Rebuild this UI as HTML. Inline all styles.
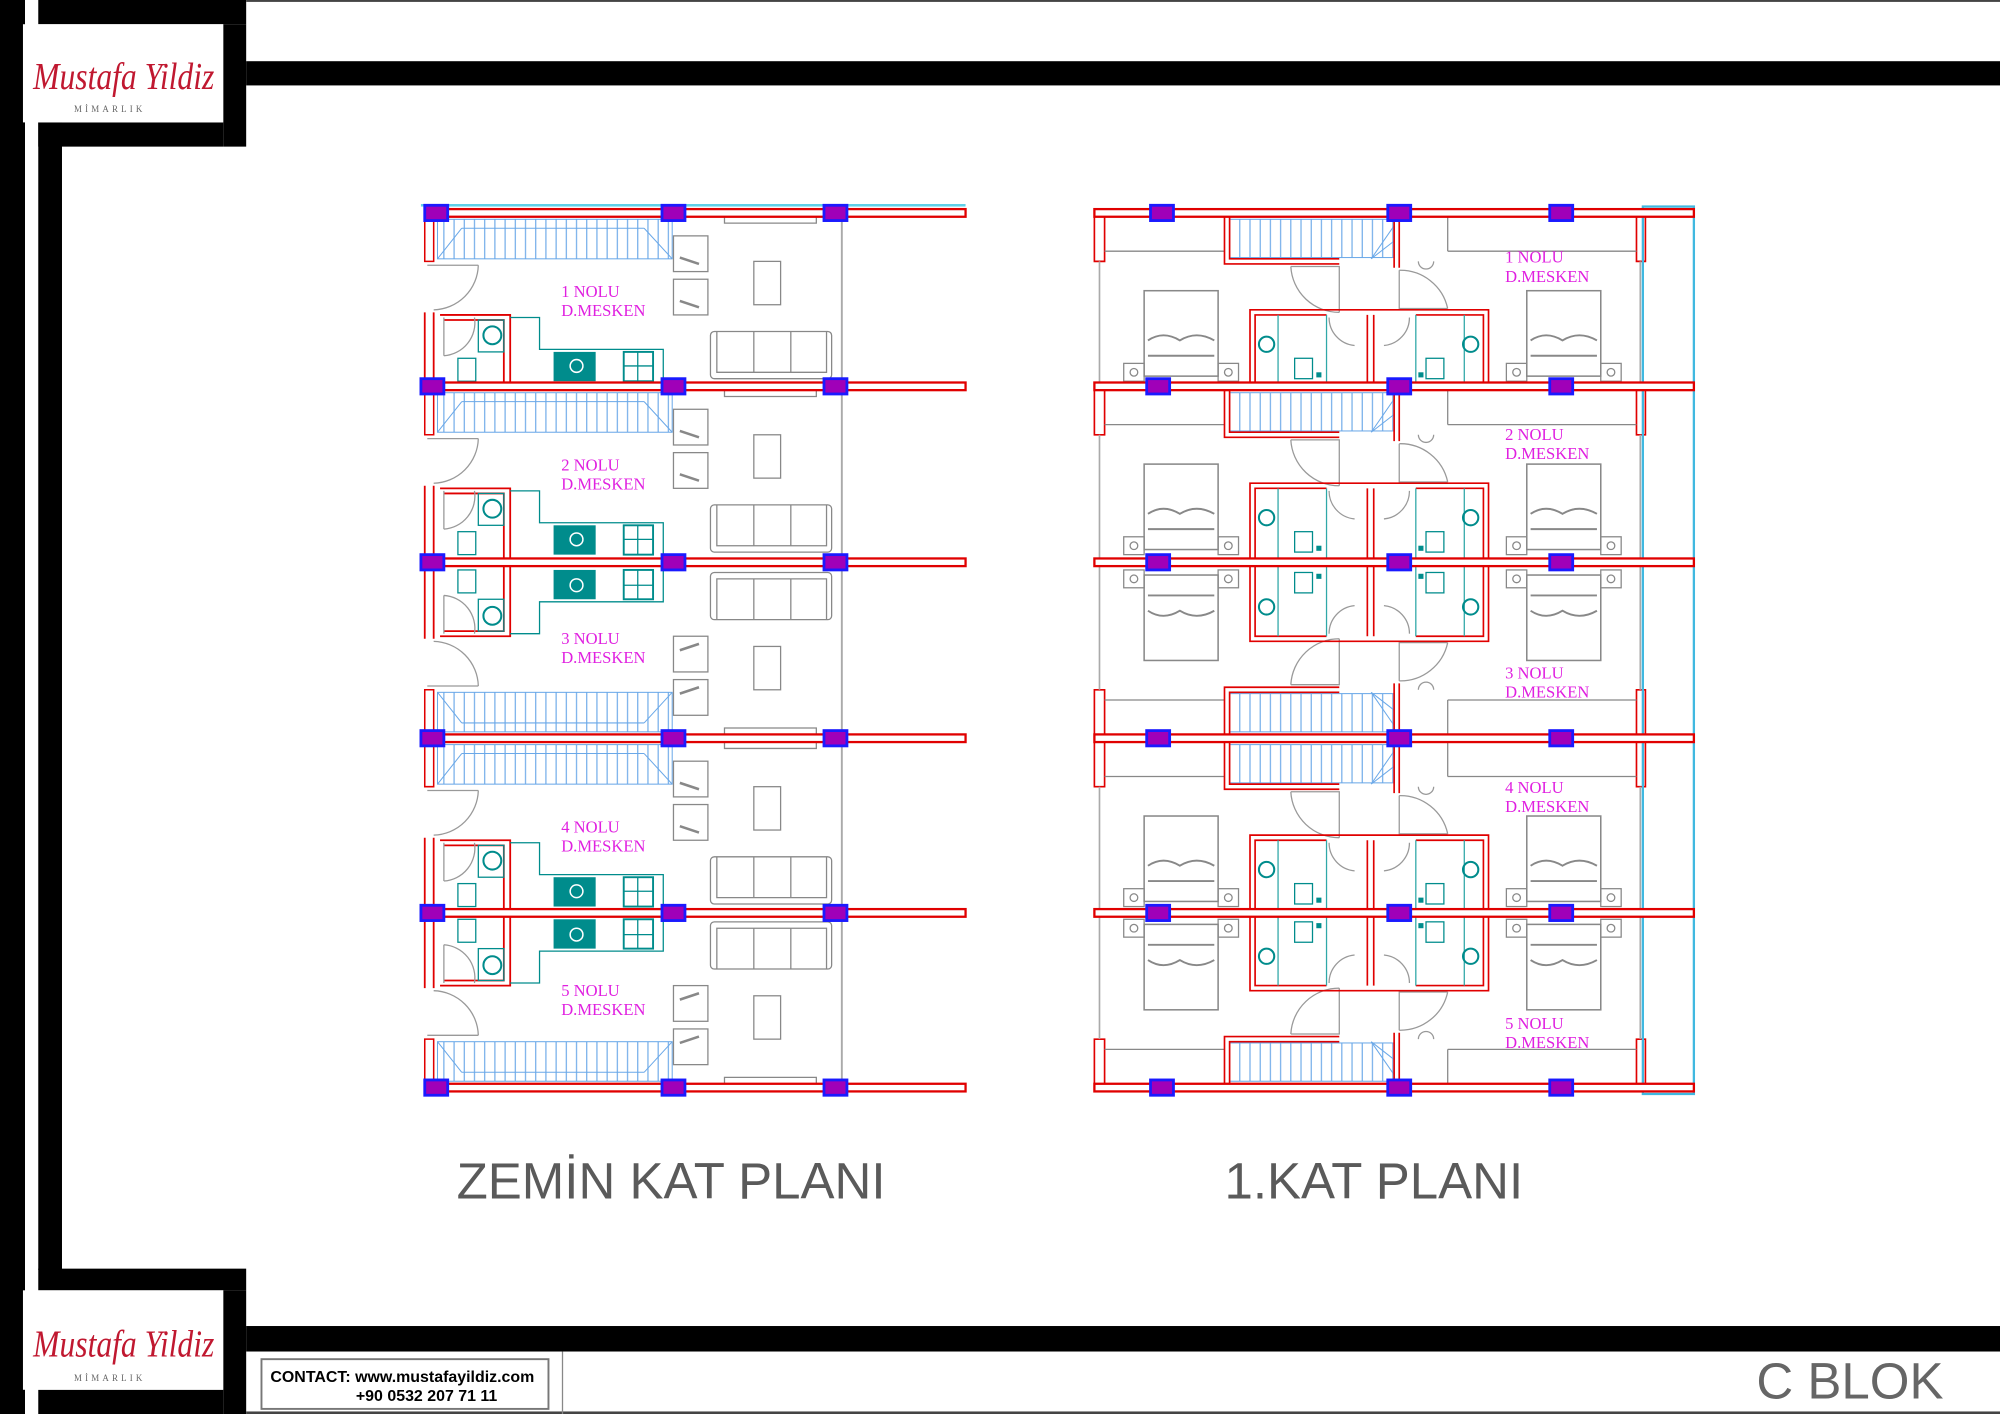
<!DOCTYPE html>
<html><head><meta charset="utf-8"><style>
html,body{margin:0;padding:0;background:#fff;width:2000px;height:1414px;overflow:hidden}
svg{display:block}
</style></head><body>
<svg width="2000" height="1414" viewBox="0 0 1568 1109" preserveAspectRatio="none" xmlns="http://www.w3.org/2000/svg">
<defs>
<pattern id="st" width="8" height="40" patternUnits="userSpaceOnUse"><line x1="4" y1="0" x2="4" y2="40" stroke="#6aa8e8" stroke-width="0.9"/></pattern>
<g id="col"><rect x="-9" y="-6" width="18" height="12" fill="#a000b8" stroke="#1a1aff" stroke-width="2.2"/></g>
<g id="LU" fill="none">
 <rect x="343" y="5" width="184" height="31" fill="url(#st)" stroke="#6aa8e8" stroke-width="0.8"/>
 <path d="M343 36 L362 12 M527 36 L505 12 M362 12 H505" stroke="#6aa8e8" stroke-width="0.8"/>
 <path d="M333 3 V38 H340 V3" stroke="#e00000" stroke-width="1.2"/>
 <path d="M335 41 H375 M375 41 A36 36 0 0 1 340 76" stroke="#999" stroke-width="1"/>
 <path d="M333 78 V136 M340 78 V136" stroke="#e00000" stroke-width="1.4"/>
 <path d="M345 80 H400 V136 M348 84 H395 V136" stroke="#e00000" stroke-width="1.4"/>
 <path d="M348 82 V112 M348 112 A26 26 0 0 0 372 82" stroke="#999" stroke-width="1"/>
 <rect x="375" y="84" width="20" height="25" stroke="#008c8c" stroke-width="1"/>
 <circle cx="386" cy="96" r="7" stroke="#008c8c" stroke-width="1.6"/>
 <rect x="359" y="114" width="14" height="18" stroke="#008c8c" stroke-width="1"/>
 <path d="M400 82 H423 V107 H520 V133" stroke="#008c8c" stroke-width="1"/>
 <rect x="434" y="109" width="33" height="23" fill="#008c8c"/>
 <circle cx="452" cy="120" r="5" stroke="#fff" stroke-width="1.2"/>
 <rect x="489" y="109" width="23" height="23" stroke="#008c8c" stroke-width="1.5"/>
 <path d="M489 120 H512 M500 109 V132" stroke="#008c8c" stroke-width="1"/>
 <rect x="528" y="18" width="27" height="28" stroke="#888" stroke-width="1"/>
 <rect x="528" y="52" width="27" height="28" stroke="#888" stroke-width="1"/>
 <path d="M533 35 L548 40 M533 69 L548 74" stroke="#888" stroke-width="2"/>
 <rect x="591" y="38" width="21" height="34" stroke="#888" stroke-width="1"/>
 <rect x="557" y="93" width="95" height="37" rx="3" stroke="#888" stroke-width="1"/>
 <path d="M562 93 V125 H648 V93 M591 93 V125 M620 93 V125" stroke="#888" stroke-width="1"/>
 <path d="M568 3 V8 H640 V3" stroke="#888" stroke-width="1"/>
 <path d="M660 6 V136" stroke="#aaa" stroke-width="1.5"/>
</g>
<g id="RU" fill="none">
 <path d="M858 3 V38 H866 V3 M1283 3 V38 H1290 V3" stroke="#e00000" stroke-width="1.3"/>
 <path d="M866 30 H960 M1135 30 H1283 M1135 3 V30" stroke="#888" stroke-width="1"/>
 <path d="M862 38 V136 M1286 38 V136" stroke="#aaa" stroke-width="1.3"/>
 <rect x="964" y="5" width="129" height="30" fill="url(#st)" stroke="#6aa8e8" stroke-width="0.8"/>
 <path d="M1093 10 L1075 36 M1093 22 L1075 36" stroke="#6aa8e8" stroke-width="0.8"/>
 <path d="M960 3 V40 H1050 M964 3 V36 H1050" stroke="#e00000" stroke-width="1.3"/>
 <path d="M1093 3 V43 M1097 3 V43" stroke="#e00000" stroke-width="1.3"/>
 <path d="M1012 42 H1050 V78 M1012 42 A38 38 0 0 0 1050 78" stroke="#999" stroke-width="1"/>
 <path d="M1097 45 V75 H1135 M1097 45 A38 38 0 0 1 1135 75" stroke="#999" stroke-width="1"/>
 <path d="M1112 38 A6 6 0 0 0 1124 38" stroke="#999"/>
 <path d="M980 136 V76 H1040 M984 136 V80 H1040 M1110 76 H1167 V136 M1110 80 H1163 V136 M1040 76 H1110 M1072 80 V136 M1077 80 V136" stroke="#e00000" stroke-width="1.3"/>
 <path d="M1002 80 V136 M1040 80 V136 M1110 80 V136 M1148 80 V136" stroke="#30a8a8" stroke-width="1"/>
 <circle cx="993" cy="103" r="6" stroke="#008c8c" stroke-width="1.6"/>
 <circle cx="1153" cy="103" r="6" stroke="#008c8c" stroke-width="1.6"/>
 <rect x="1015" y="114" width="14" height="16" stroke="#008c8c"/>
 <rect x="1118" y="114" width="14" height="16" stroke="#008c8c"/>
 <rect x="1032" y="125" width="4" height="4" fill="#008c8c"/><rect x="1112" y="125" width="4" height="4" fill="#008c8c"/>
 <path d="M1042 82 A22 22 0 0 0 1062 104 M1105 82 A22 22 0 0 1 1085 104" stroke="#999"/>
 <rect x="897" y="61" width="58" height="67" stroke="#888" stroke-width="1.2"/>
 <rect x="1197" y="61" width="58" height="67" stroke="#888" stroke-width="1.2"/>
 <path d="M900 100 Q912 92 925 100 Q938 92 952 100 M900 112 H952 M1200 100 Q1212 92 1225 100 Q1238 92 1252 100 M1200 112 H1252" stroke="#888" stroke-width="1.5"/>
 <rect x="881" y="118" width="16" height="14" stroke="#888"/><rect x="955" y="118" width="16" height="14" stroke="#888"/>
 <rect x="1181" y="118" width="16" height="14" stroke="#888"/><rect x="1255" y="118" width="16" height="14" stroke="#888"/>
 <circle cx="889" cy="125" r="3" stroke="#888"/><circle cx="963" cy="125" r="3" stroke="#888"/>
 <circle cx="1189" cy="125" r="3" stroke="#888"/><circle cx="1263" cy="125" r="3" stroke="#888"/>
</g>
<g id="LW"><rect x="333" y="-3" width="424" height="6" fill="#fff" stroke="#e00000" stroke-width="1.8"/></g>
<g id="RW"><rect x="858" y="-3" width="470" height="6" fill="#fff" stroke="#e00000" stroke-width="1.8"/></g>
</defs>

<!-- frame -->
<rect x="0" y="0" width="19.6" height="1109" fill="#000"/>
<rect x="30" y="0" width="163" height="19" fill="#000"/>
<rect x="175" y="19" width="18" height="96" fill="#000"/>
<rect x="30" y="96" width="145" height="19" fill="#000"/>
<rect x="30" y="96" width="18.6" height="900" fill="#000"/>
<rect x="193" y="0" width="1375" height="1.5" fill="#444"/>
<rect x="193" y="48" width="1375" height="19" fill="#000"/>
<rect x="18" y="19" width="157" height="77" fill="#fff"/>
<rect x="30" y="995" width="163" height="17" fill="#000"/>
<rect x="175" y="1012" width="18" height="97" fill="#000"/>
<rect x="30" y="1090" width="145" height="19" fill="#000"/>
<rect x="18" y="1012" width="157" height="78" fill="#fff"/>
<rect x="193" y="1040" width="1375" height="20" fill="#000"/>
<rect x="193" y="1107" width="1375" height="2" fill="#444"/>
<line x1="441" y1="1060" x2="441" y2="1109" stroke="#888" stroke-width="1"/>
<rect x="205" y="1066" width="225" height="39" fill="#fff" stroke="#777" stroke-width="1.5"/>
<text x="212" y="1084" font-family="Liberation Sans, sans-serif" font-weight="bold" font-size="12.5" fill="#000">CONTACT:  www.mustafayildiz.com</text>
<text x="279" y="1099" font-family="Liberation Sans, sans-serif" font-weight="bold" font-size="12.5" fill="#000">+90 0532 207 71 11</text>
<text x="1377" y="1097" font-family="Liberation Sans, sans-serif" font-size="40" fill="#666">C BLOK</text>

<g font-family="Liberation Serif, serif" font-style="italic" fill="#c01830">
<text x="26" y="70" font-size="30" textLength="142" lengthAdjust="spacingAndGlyphs">Mustafa Yildiz</text>
<text x="26" y="1064" font-size="30" textLength="142" lengthAdjust="spacingAndGlyphs">Mustafa Yildiz</text>
</g>
<g font-family="Liberation Serif, serif" font-size="7" fill="#666" letter-spacing="2.5">
<text x="58" y="88">MİMARLIK</text><text x="58" y="1083">MİMARLIK</text>
</g>

<!-- left plan -->
<use href="#LU" transform="translate(0,167)"/>
<use href="#LU" transform="translate(0,303)"/>
<use href="#LU" transform="translate(0,579) scale(1,-1)"/>
<use href="#LU" transform="translate(0,579)"/>
<use href="#LU" transform="translate(0,853) scale(1,-1)"/>
<rect x="330" y="160" width="427" height="2" fill="#60d0e8"/>
<use href="#LW" transform="translate(0,167)"/><use href="#LW" transform="translate(0,303)"/>
<use href="#LW" transform="translate(0,441)"/><use href="#LW" transform="translate(0,579)"/>
<use href="#LW" transform="translate(0,716)"/><use href="#LW" transform="translate(0,853)"/>
<g>
<use href="#col" x="342" y="167"/><use href="#col" x="528" y="167"/><use href="#col" x="655" y="167"/>
<use href="#col" x="339" y="303"/><use href="#col" x="528" y="303"/><use href="#col" x="655" y="303"/>
<use href="#col" x="339" y="441"/><use href="#col" x="528" y="441"/><use href="#col" x="655" y="441"/>
<use href="#col" x="339" y="579"/><use href="#col" x="528" y="579"/><use href="#col" x="655" y="579"/>
<use href="#col" x="339" y="716"/><use href="#col" x="528" y="716"/><use href="#col" x="655" y="716"/>
<use href="#col" x="342" y="853"/><use href="#col" x="528" y="853"/><use href="#col" x="655" y="853"/>
</g>

<!-- right plan -->
<use href="#RU" transform="translate(0,167)"/>
<use href="#RU" transform="translate(0,303)"/>
<use href="#RU" transform="translate(0,579) scale(1,-1)"/>
<use href="#RU" transform="translate(0,579)"/>
<use href="#RU" transform="translate(0,853) scale(1,-1)"/>
<rect x="1288" y="162" width="40" height="696" fill="none" stroke="#40b8e0" stroke-width="1.8"/>
<path d="M1288 300 H1328 M1288 304 H1328 M1288 577 H1328 M1288 581 H1328" stroke="#40b8e0" stroke-width="1.5"/>
<use href="#RW" transform="translate(0,167)"/><use href="#RW" transform="translate(0,303)"/>
<use href="#RW" transform="translate(0,441)"/><use href="#RW" transform="translate(0,579)"/>
<use href="#RW" transform="translate(0,716)"/><use href="#RW" transform="translate(0,853)"/>
<g>
<use href="#col" x="911" y="167"/><use href="#col" x="1097" y="167"/><use href="#col" x="1224" y="167"/>
<use href="#col" x="908" y="303"/><use href="#col" x="1097" y="303"/><use href="#col" x="1224" y="303"/>
<use href="#col" x="908" y="441"/><use href="#col" x="1097" y="441"/><use href="#col" x="1224" y="441"/>
<use href="#col" x="908" y="579"/><use href="#col" x="1097" y="579"/><use href="#col" x="1224" y="579"/>
<use href="#col" x="908" y="716"/><use href="#col" x="1097" y="716"/><use href="#col" x="1224" y="716"/>
<use href="#col" x="911" y="853"/><use href="#col" x="1097" y="853"/><use href="#col" x="1224" y="853"/>
</g>

<g font-family="Liberation Serif, serif" font-size="13" fill="#e020e0">
<text x="440" y="233">1 NOLU</text><text x="440" y="248">D.MESKEN</text>
<text x="440" y="369">2 NOLU</text><text x="440" y="384">D.MESKEN</text>
<text x="440" y="505">3 NOLU</text><text x="440" y="520">D.MESKEN</text>
<text x="440" y="653">4 NOLU</text><text x="440" y="668">D.MESKEN</text>
<text x="440" y="781">5 NOLU</text><text x="440" y="796">D.MESKEN</text>
<text x="1180" y="206">1 NOLU</text><text x="1180" y="221">D.MESKEN</text>
<text x="1180" y="345">2 NOLU</text><text x="1180" y="360">D.MESKEN</text>
<text x="1180" y="532">3 NOLU</text><text x="1180" y="547">D.MESKEN</text>
<text x="1180" y="622">4 NOLU</text><text x="1180" y="637">D.MESKEN</text>
<text x="1180" y="807">5 NOLU</text><text x="1180" y="822">D.MESKEN</text>
</g>

<g font-family="Liberation Sans, sans-serif" font-size="40" fill="#5a5a5a">
<text x="358" y="940">ZEMİN KAT PLANI</text>
<text x="960" y="940">1.KAT PLANI</text>
</g>
</svg>
</body></html>
